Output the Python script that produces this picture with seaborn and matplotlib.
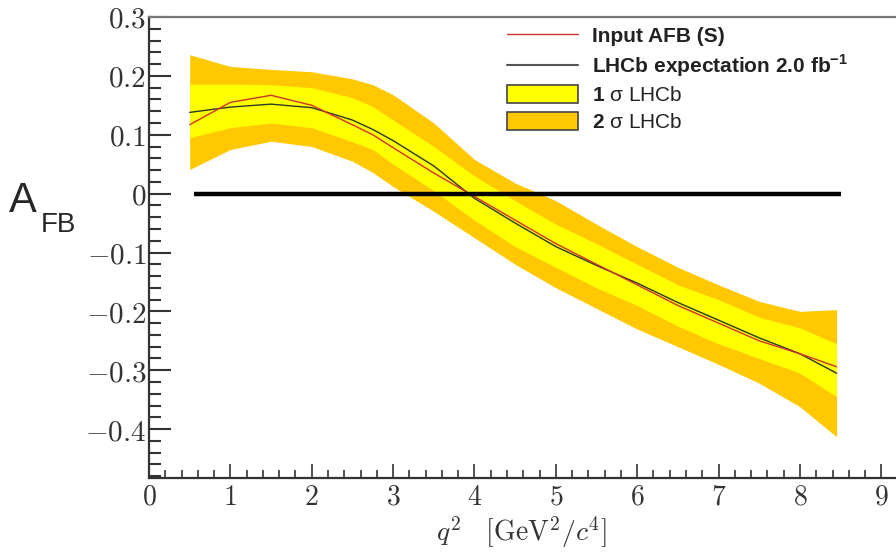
import numpy as np
import pandas as pd
import matplotlib
matplotlib.use("Agg")
import matplotlib.pyplot as plt
import seaborn as sns
from matplotlib.ticker import MultipleLocator, AutoMinorLocator, FuncFormatter
from matplotlib.patches import Patch
from matplotlib.lines import Line2D

# q^2 points
q2 = [0.5, 1.0, 1.5, 2.0, 2.5, 2.75, 3.0, 3.5, 4.0, 4.5, 5.0, 5.5, 6.0, 6.5, 7.0, 7.5, 8.0, 8.45]

# curves
afb_input = [0.117, 0.155, 0.167, 0.150, 0.117, 0.100, 0.078, 0.035, -0.005, -0.045, -0.085,
             -0.120, -0.155, -0.190, -0.220, -0.250, -0.272, -0.294]
afb_lhcb = [0.138, 0.147, 0.152, 0.146, 0.125, 0.109, 0.090, 0.047, -0.008, -0.050, -0.090,
            -0.122, -0.152, -0.185, -0.215, -0.245, -0.272, -0.305]

# bands
sig2_hi = [0.236, 0.216, 0.211, 0.207, 0.195, 0.185, 0.168, 0.120, 0.058, 0.018, -0.012,
           -0.052, -0.090, -0.125, -0.155, -0.183, -0.200, -0.197]
sig1_hi = [0.186, 0.186, 0.185, 0.180, 0.163, 0.148, 0.125, 0.080, 0.030, -0.012, -0.052,
           -0.085, -0.120, -0.155, -0.180, -0.210, -0.228, -0.255]
sig1_lo = [0.095, 0.112, 0.120, 0.112, 0.088, 0.075, 0.050, 0.005, -0.045, -0.090, -0.125,
           -0.160, -0.190, -0.225, -0.255, -0.280, -0.305, -0.345]
sig2_lo = [0.041, 0.075, 0.089, 0.080, 0.055, 0.036, 0.012, -0.030, -0.075, -0.120, -0.160,
           -0.195, -0.230, -0.260, -0.290, -0.322, -0.362, -0.413]

sns.set_style("ticks")
plt.rcParams["mathtext.fontset"] = "cm"
plt.rcParams["mathtext.bf"] = "Liberation Sans:bold"
plt.rcParams["font.family"] = ["Liberation Sans", "DejaVu Sans"]

yellow = "#ffff00"
orange = "#ffc800"
red = "#d2322d"
dark = "#2a3a2a"

df = pd.DataFrame({"q2": q2 * 2, "afb": afb_input + afb_lhcb,
                   "curve": ["input"] * len(q2) + ["lhcb"] * len(q2)})

fig = plt.figure(figsize=(8.96, 5.53), dpi=100)
ax = fig.add_axes([149 / 896, 75 / 553, 760 / 896, 461 / 553])

ax.fill_between(q2, sig2_lo, sig2_hi, color=orange, lw=0)
ax.fill_between(q2, sig1_lo, sig1_hi, color=yellow, lw=0)
sns.lineplot(data=df, x="q2", y="afb", hue="curve", palette={"input": red, "lhcb": dark},
             hue_order=["lhcb", "input"], lw=1.0, legend=False, ax=ax)
ax.hlines(0, 0.55, 8.5, color="black", lw=3.2)

ax.set_xlim(0, 9.34)
ax.set_ylim(-0.483, 0.3)
ax.xaxis.set_major_locator(MultipleLocator(1))
ax.xaxis.set_minor_locator(AutoMinorLocator(5))
ax.yaxis.set_major_locator(MultipleLocator(0.1))
ax.yaxis.set_minor_locator(AutoMinorLocator(5))
ax.xaxis.set_major_formatter(FuncFormatter(lambda v, p: r"$%d$" % round(v)))
ax.yaxis.set_major_formatter(FuncFormatter(lambda v, p: r"$%g$" % round(v, 1)))
ax.tick_params(axis="both", which="both", direction="in", colors="#333333",
               labelcolor="#333333", labelsize=21)
ax.tick_params(axis="x", labelsize=20)
ax.tick_params(axis="y", which="major", length=16, width=1.5, pad=2)
ax.tick_params(axis="y", which="minor", length=8.5, width=1.5)
ax.tick_params(axis="x", which="major", length=10, width=1.2, pad=5)
ax.tick_params(axis="x", which="minor", length=5.5, width=1.2)
for s in ["left", "bottom"]:
    ax.spines[s].set_linewidth(1.6)
    ax.spines[s].set_color("#333333")
ax.spines["top"].set_linewidth(1.6)
ax.spines["top"].set_color("#777777")
ax.spines["right"].set_visible(False)
ax.set_xlabel(r"$q^2\quad[\mathrm{GeV}^2/c^4]$", fontsize=20, color="#333333")
ax.xaxis.set_label_coords(0.49, -0.078)
ax.set_ylabel("")

fig.text(9 / 896, 1 - 212 / 553, "A", fontsize=30, ha="left", va="baseline")
fig.text(41 / 896, 1 - 232 / 553, "FB", fontsize=20, ha="left", va="baseline")

handles = [Line2D([], [], color=red, lw=1.0),
           Line2D([], [], color="#555555", lw=1.5),
           Patch(facecolor=yellow, edgecolor="#444444", lw=1.2),
           Patch(facecolor=orange, edgecolor="#444444", lw=1.2)]
labels = ["Input AFB (S)", r"LHCb expectation 2.0 fb$^{\mathbf{-1}}$",
          r"$\mathbf{1}$ σ LHCb", r"$\mathbf{2}$ σ LHCb"]
leg = ax.legend(handles, labels, loc="upper left", bbox_to_anchor=(507 / 896, 1 - 26 / 553),
                bbox_transform=fig.transFigure, frameon=False, fontsize=15,
                handlelength=3.4, handleheight=0.95, handletextpad=0.7, labelspacing=0.3,
                borderaxespad=0, borderpad=0)
for i, t in enumerate(leg.get_texts()):
    t.set_math_fontfamily("custom")
    t.set_color("#222222")
    if i < 2:
        t.set_fontweight("bold")

fig.savefig("out.png", dpi=100)
